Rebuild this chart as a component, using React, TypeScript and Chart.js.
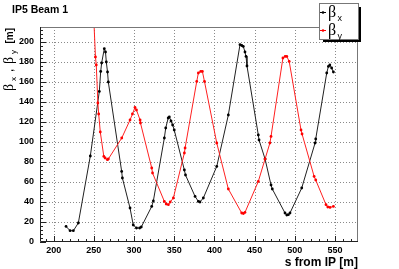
import React, { useEffect, useRef } from "react";
import { Chart, registerables } from "chart.js";

Chart.register(...registerables);

const betaXS = [215.4, 220.4, 224.5, 230.7, 245.6, 256.8, 258.5, 259.7, 263, 264.5, 265.5, 267, 268, 284.6, 285.5, 295, 299, 303, 307, 309, 322, 324, 337.7, 339.4, 342.5, 343.9, 346, 348, 350, 362.6, 364, 375.9, 380, 382, 386.2, 402.9, 417.3, 431.8, 434, 435.9, 438, 439.3, 440.5, 454.6, 455.5, 463, 470.4, 472, 487.8, 490, 492, 494, 508.6, 525.2, 526, 539.7, 541.8, 543.5, 545.8, 548];
const betaXV = [15.6, 11.3, 11.3, 19, 86, 150.6, 170.6, 179, 193.3, 190, 180, 170, 160, 70.6, 64, 34, 17, 14, 14, 15, 35.6, 41, 104, 114, 124, 125, 121, 117, 112, 72, 67, 45.6, 40.6, 40, 44, 75.6, 127, 197.3, 196.5, 195.6, 190, 185.6, 176, 107, 102, 83, 57, 53, 29, 27, 27.3, 29, 54, 99, 103, 169, 175.6, 177, 174, 170];

const betaYS = [249.8, 252, 253, 255, 256, 258, 262.4, 264, 266.8, 268, 284.7, 295, 298, 301.2, 303, 307.5, 308, 322, 323, 337.7, 340, 342.7, 345, 348.9, 362.6, 363.5, 378, 380, 383, 385, 387.6, 402.9, 417.3, 433.9, 436, 438, 454.6, 463, 469, 470.4, 485.2, 488, 490, 493, 507.7, 509, 524, 526, 538.8, 541, 543.8, 548];
const betaYV = [225, 185, 177, 139, 128, 110, 85.6, 84, 82.3, 83, 104, 122, 128, 134.6, 132, 122, 119, 74, 69, 40.6, 38, 37.3, 40, 44, 89, 94, 160.6, 169, 170.6, 170.6, 160.6, 99, 53, 29, 28.5, 29.6, 60.6, 83, 99, 105.6, 184, 185.6, 185.6, 180.6, 112, 108, 65.6, 62, 37.3, 35, 34.6, 35.6];

const xTicks = [200, 250, 300, 350, 400, 450, 500, 550];
const yTicks = [0, 20, 40, 60, 80, 100, 120, 140, 160, 180, 200];
const xMinor = [190, 210, 220, 230, 240, 260, 270, 280, 290, 310, 320, 330, 340, 360, 370, 380, 390, 410, 420, 430, 440, 460, 470, 480, 490, 510, 520, 530, 540, 560, 570];
const yMinor = [4, 8, 12, 16, 24, 28, 32, 36, 44, 48, 52, 56, 64, 68, 72, 76, 84, 88, 92, 96, 104, 108, 112, 116, 124, 128, 132, 136, 144, 148, 152, 156, 164, 168, 172, 176, 184, 188, 192, 196, 204, 208, 212];

const titleText = "IP5 Beam 1";
const xTitle = "s from IP [m]";

const SANS = "'Liberation Sans', Arial, sans-serif";
const SERIF = "'Liberation Serif', 'DejaVu Serif', serif";

const decor = {
  id: "rootDecor",
  beforeDatasetsDraw(chart: any) {
    const { ctx, chartArea: a, scales } = chart;
    const xs = scales.x, ys = scales.y;
    ctx.save();
    ctx.strokeStyle = "#8a8a8a";
    ctx.lineWidth = 1;
    ctx.setLineDash([1, 2]);
    xTicks.forEach((v) => {
      const p = Math.round(xs.getPixelForValue(v)) + 0.5;
      ctx.beginPath(); ctx.moveTo(p, a.top); ctx.lineTo(p, a.bottom); ctx.stroke();
    });
    yTicks.forEach((v) => {
      if (v === 0) return;
      const p = Math.round(ys.getPixelForValue(v)) + 0.5;
      ctx.beginPath(); ctx.moveTo(a.left, p); ctx.lineTo(a.right, p); ctx.stroke();
    });
    ctx.restore();
  },
  afterDraw(chart: any) {
    const { ctx, chartArea: a, scales } = chart;
    const xs = scales.x, ys = scales.y;
    ctx.save();
    // frame
    ctx.strokeStyle = "#777";
    ctx.lineWidth = 1;
    ctx.beginPath();
    ctx.moveTo(a.left, a.top + 0.5); ctx.lineTo(a.right - 0.5, a.top + 0.5); ctx.lineTo(a.right - 0.5, a.bottom);
    ctx.stroke();
    ctx.strokeStyle = "#222";
    ctx.beginPath();
    ctx.moveTo(a.left + 0.5, a.top); ctx.lineTo(a.left + 0.5, a.bottom - 0.5); ctx.lineTo(a.right, a.bottom - 0.5);
    ctx.stroke();
    // ticks
    ctx.beginPath();
    xTicks.forEach((v) => {
      const p = Math.round(xs.getPixelForValue(v)) + 0.5;
      ctx.moveTo(p, a.bottom); ctx.lineTo(p, a.bottom - 6);
    });
    xMinor.forEach((v) => {
      const p = Math.round(xs.getPixelForValue(v)) + 0.5;
      ctx.moveTo(p, a.bottom); ctx.lineTo(p, a.bottom - 3);
    });
    yTicks.forEach((v) => {
      const p = Math.round(ys.getPixelForValue(v)) + 0.5;
      ctx.moveTo(a.left, p); ctx.lineTo(a.left + 6, p);
    });
    yMinor.forEach((v) => {
      const p = Math.round(ys.getPixelForValue(v)) + 0.5;
      ctx.moveTo(a.left, p); ctx.lineTo(a.left + 3, p);
    });
    ctx.stroke();

    // title
    ctx.fillStyle = "#000";
    ctx.font = `bold 10.5px ${SANS}`;
    ctx.textAlign = "left";
    ctx.textBaseline = "alphabetic";
    ctx.fillText(titleText, 12, 12.5);

    // x title
    ctx.font = `bold 12px ${SANS}`;
    ctx.textAlign = "right";
    ctx.fillText(xTitle, a.right, 266);

    // y title (rotated)
    ctx.save();
    ctx.translate(12.5, a.top);
    ctx.rotate(-Math.PI / 2);
    ctx.textAlign = "right";
    ctx.font = `bold 10px ${SANS}`;
    ctx.fillText("[m]", -1, 0);
    ctx.font = `8px ${SANS}`;
    ctx.fillText("y", -23, 3.5);
    ctx.font = `14px ${SERIF}`;
    ctx.fillText("\u03b2", -30, 0);
    ctx.font = `bold 10px ${SANS}`;
    ctx.fillText(",", -42, 0);
    ctx.font = `8px ${SANS}`;
    ctx.fillText("x", -50, 3.5);
    ctx.font = `14px ${SERIF}`;
    ctx.fillText("\u03b2", -57, 0);
    ctx.restore();

    // legend
    const lx = 319, ly = 3, lw = 40, lh = 37;
    ctx.fillStyle = "#000";
    ctx.fillRect(lx + lw, ly + 4, 2, lh - 2);
    ctx.fillRect(lx + 4, ly + lh, lw - 2, 2);
    ctx.fillStyle = "#fff";
    ctx.fillRect(lx, ly, lw, lh);
    ctx.strokeStyle = "#777";
    ctx.lineWidth = 1;
    ctx.strokeRect(lx + 0.5, ly + 0.5, lw - 1, lh - 1);
    const entries = [
      { c: "#000", y: 12.5, sub: "x" },
      { c: "#f00", y: 30.5, sub: "y" },
    ];
    entries.forEach((e) => {
      ctx.strokeStyle = e.c;
      ctx.beginPath(); ctx.moveTo(320, e.y); ctx.lineTo(326, e.y); ctx.stroke();
      ctx.fillStyle = e.c;
      ctx.beginPath(); ctx.arc(323, e.y, 1.3, 0, Math.PI * 2); ctx.fill();
      ctx.fillStyle = "#000";
      ctx.textAlign = "left";
      ctx.font = `16px ${SERIF}`;
      ctx.fillText("\u03b2", 328, e.y + 4);
      ctx.font = `9px ${SANS}`;
      ctx.fillText(e.sub, 337.5, e.y + 8);
    });
    ctx.restore();
  },
};

export default function App() {
  const ref = useRef<HTMLCanvasElement>(null);
  useEffect(() => {
    document.body.style.margin = "0";
    const toPts = (xs: number[], vs: number[]) => xs.map((x, i) => ({ x, y: vs[i] }));
    const chart = new Chart(ref.current!, {
      type: "scatter",
      data: {
        datasets: [
          {
            label: "βy",
            data: toPts(betaYS, betaYV),
            showLine: true,
            borderColor: "#ff2020",
            backgroundColor: "#ff0000",
            borderWidth: 1,
            pointRadius: 1.4,
            pointBorderWidth: 0,
          },
          {
            label: "βx",
            data: toPts(betaXS, betaXV),
            showLine: true,
            borderColor: "#202020",
            backgroundColor: "#000",
            borderWidth: 1,
            pointRadius: 1.4,
            pointBorderWidth: 0,
          },
        ],
      },
      options: {
        animation: false,
        responsive: false,
        events: [],
        layout: { padding: { top: 27, right: 41, left: 0, bottom: 0 } },
        plugins: { legend: { display: false }, tooltip: { enabled: false }, title: { display: false } },
        scales: {
          x: {
            type: "linear",
            min: 183,
            max: 578.6,
            grid: { display: false, drawTicks: false },
            border: { display: false },
            afterBuildTicks: (s: any) => { s.ticks = xTicks.map((v) => ({ value: v })); },
            afterFit: (s: any) => { s.height = 27; },
            ticks: { color: "#000", padding: 3, maxRotation: 0, font: { family: SANS, size: 9, weight: "bold" } },
          },
          y: {
            type: "linear",
            min: 0,
            max: 215,
            grid: { display: false, drawTicks: false },
            border: { display: false },
            afterBuildTicks: (s: any) => { s.ticks = yTicks.map((v) => ({ value: v })); },
            afterFit: (s: any) => { s.width = 40; },
            ticks: { color: "#000", padding: 6, font: { family: SANS, size: 9, weight: "bold" } },
          },
        },
      },
      plugins: [decor],
    });
    return () => chart.destroy();
  }, []);
  return (
    <div style={{ position: "fixed", left: 0, top: 0, width: 399, height: 269, background: "#fff" }}>
      <canvas ref={ref} width={399} height={269} style={{ width: 399, height: 269, display: "block" }} />
    </div>
  );
}
